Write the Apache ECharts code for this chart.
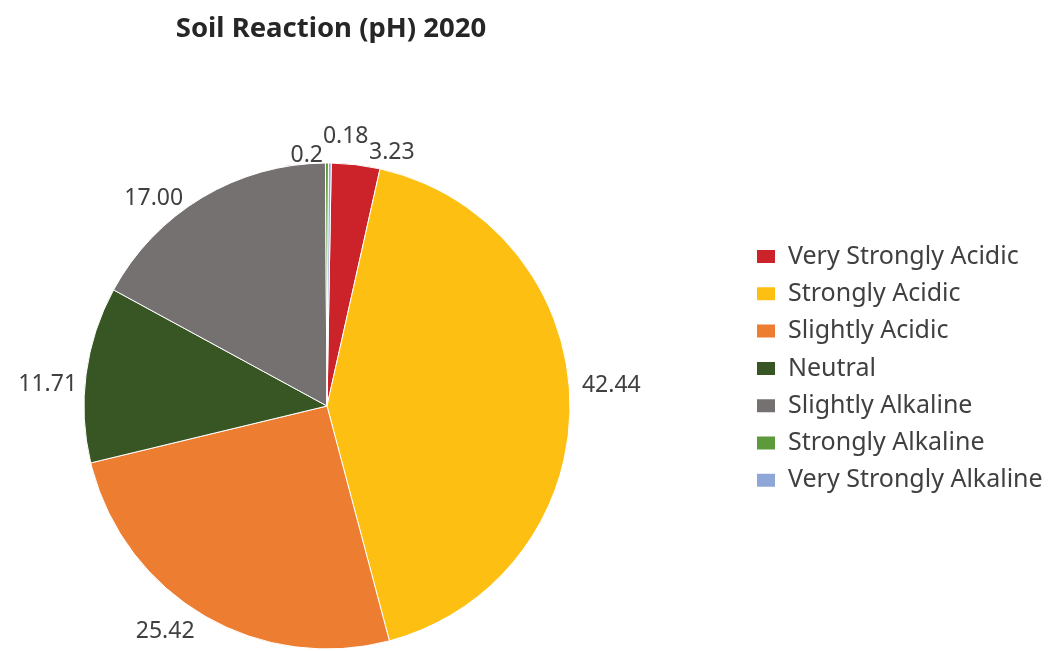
<!DOCTYPE html>
<html>
<head>
<meta charset="utf-8">
<script src="https://cdn.jsdelivr.net/npm/echarts@6/dist/echarts.min.js"></script>
<style>
  html, body { margin: 0; padding: 0; background: #fff; }
  #chart { width: 1051px; height: 651px; }
</style>
</head>
<body>
<div id="chart"></div>
<script>
// 数据
var categories = ['Very Strongly Acidic', 'Strongly Acidic', 'Slightly Acidic', 'Neutral',
                  'Slightly Alkaline', 'Strongly Alkaline', 'Very Strongly Alkaline'];
var values = [3.23, 42.44, 25.42, 11.71, 17.00, 0.2, 0.18];
var valueLabels = ['3.23', '42.44', '25.42', '11.71', '17.00', '0.2', '0.18'];
var colors = ['#CC2229', '#FDBF12', '#ED7D31', '#375623', '#767171', '#5D9A3C', '#8FA7D6'];

var font = "'Noto Sans', sans-serif";

// 标签微调（仿原图位置，顶部两个小扇区挪开避免重叠）
var labelNudge = {
    'Very Strongly Acidic': { dx: 3, dy: -10 },
    'Strongly Acidic': { dx: 0, dy: -16 },
    'Slightly Acidic': { dx: 3, dy: 15 },
    'Neutral': { dx: 3, dy: 10 },
    'Slightly Alkaline': { dx: -8, dy: 3 },
    'Strongly Alkaline': { dx: 6, dy: -6 },
    'Very Strongly Alkaline': { dx: -17, dy: -25 }
};

var pieData = [];
for (var i = 0; i < categories.length; i++) {
    pieData.push({ name: categories[i], value: values[i] });
}

var chart = echarts.init(document.getElementById('chart'));
chart.setOption({
    color: colors,
    title: {
        text: 'Soil Reaction (pH) 2020',
        left: 326,
        textAlign: 'center',
        top: 10,
        textStyle: { fontFamily: font, fontSize: 27.5, fontWeight: 'bold', color: '#262626' }
    },
    legend: {
        orient: 'vertical',
        left: 750,
        top: 239,
        itemWidth: 20,
        itemHeight: 15,
        itemGap: 12.3,
        icon: 'rect',
        textStyle: { fontFamily: font, fontSize: 25, lineHeight: 25, color: '#404040', padding: [0, 0, 0, 7] }
    },
    series: [{
        type: 'pie',
        center: [327, 406],
        radius: 243,
        startAngle: 89,
        clockwise: true,
        avoidLabelOverlap: false,
        data: pieData,
        itemStyle: { borderColor: '#fff', borderWidth: 1 },
        label: {
            show: true,
            position: 'outside',
            fontFamily: font,
            fontSize: 23,
            color: '#404040',
            formatter: function (p) { return valueLabels[p.dataIndex]; }
        },
        labelLine: { show: false, length: 2, length2: 5 },
        labelLayout: function (p) {
            var n = labelNudge[categories[p.dataIndex]];
            return n ? { dx: n.dx, dy: n.dy } : {};
        },
        emphasis: { disabled: true }
    }]
});
</script>
</body>
</html>
